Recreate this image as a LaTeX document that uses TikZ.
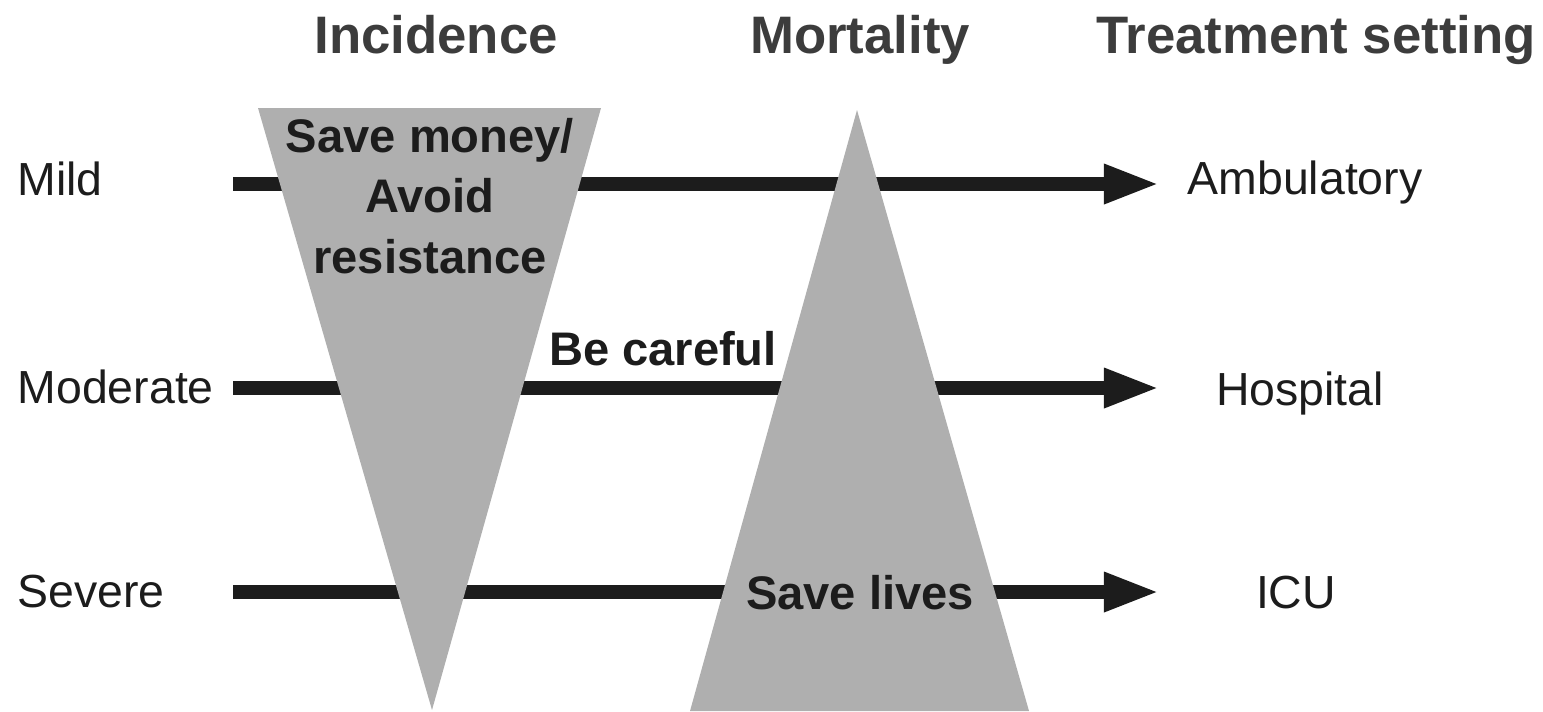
\documentclass[tikz,border=0pt]{standalone}
\usepackage{fontspec}
\setmainfont{Liberation Sans}
\usetikzlibrary{arrows.meta, math}
\definecolor{mygray}{RGB}{175,175,175}
\definecolor{myblack}{RGB}{28,28,28}
\definecolor{mydark}{RGB}{60,60,60}

\tikzset{
  rowlabel/.style={font=\fontsize{13.2}{15}\selectfont, text=myblack, inner sep=0pt, anchor=base},
  headlabel/.style={font=\fontsize{15}{18}\selectfont\bfseries, text=mydark, inner sep=0pt, anchor=base},
  inlabel/.style={font=\fontsize{13.4}{17.1}\selectfont\bfseries, text=myblack, inner sep=0pt, anchor=base, align=center},
  bar/.style={myblack, line width=0.14cm, -{Triangle[length=0.56cm,width=0.36cm]}},
  wedge/.style={fill=mygray}
}

\begin{document}
\begin{tikzpicture}[x=0.01cm, y=-0.01cm]
\tikzmath{
\ya=184;
\yb=388;
\yc=592;
\xs=233;
\xe=1160;
}
\useasboundingbox (0,0) rectangle (1543,711);

% column heads
\node[headlabel] (incidence) at (436,53) {Incidence};
\node[headlabel] (mortality) at (860,53) {Mortality};
\node[headlabel] (setting) at (1316,53) {Treatment setting};

% severity rows
\node[rowlabel, anchor=base west] (mild) at (17,195) {Mild};
\node[rowlabel, anchor=base west] (moderate) at (17,403) {Moderate};
\node[rowlabel, anchor=base west] (severe) at (17,607) {Severe};

\node[rowlabel] (ambulatory) at (1305,194) {Ambulatory};
\node[rowlabel] (hospital) at (1300,405) {Hospital};
\node[rowlabel] (icu) at (1296,608) {ICU};

\coordinate (mild-s) at (\xs,\ya);
\coordinate (mild-e) at (\xe,\ya);
\coordinate (moderate-s) at (\xs,\yb);
\coordinate (moderate-e) at (\xe,\yb);
\coordinate (severe-s) at (\xs,\yc);
\coordinate (severe-e) at (\xe,\yc);

\draw[bar] (mild-s) -- (mild-e);
\draw[bar] (moderate-s) -- (moderate-e);
\draw[bar] (severe-s) -- (severe-e);

% the two wedges go over the bars
\fill[wedge] (258,108) -- (601,108) -- (432,710) -- cycle;
\fill[wedge] (857,110) -- (1029,711) -- (690,711) -- cycle;

% base of a multi-line node sits on its last line
\node[inlabel] (money) at (430,273) {Save money/\\Avoid\\resistance};
\node[inlabel] (careful) at (663,365) {Be careful};
\node[inlabel] (lives) at (860,609) {Save lives};
\end{tikzpicture}
\end{document}
